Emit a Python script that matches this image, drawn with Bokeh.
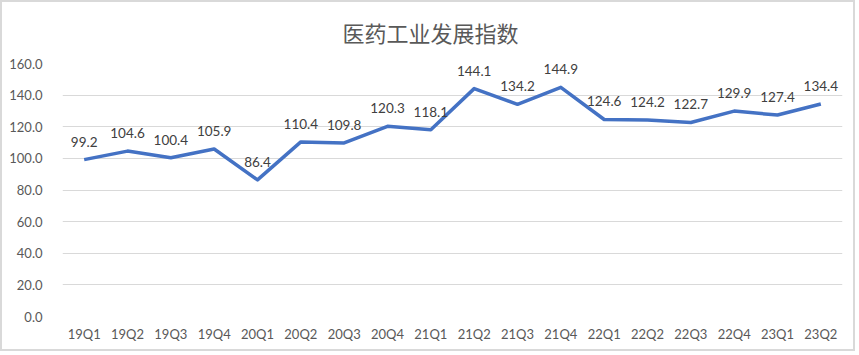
from bokeh.plotting import figure
from bokeh.models import FactorRange, Range1d, ColumnDataSource, NumeralTickFormatter, Title
from bokeh.core.properties import value
from bokeh.embed import file_html
from bokeh.resources import INLINE

categories = ["19Q1", "19Q2", "19Q3", "19Q4", "20Q1", "20Q2", "20Q3", "20Q4", "21Q1",
              "21Q2", "21Q3", "21Q4", "22Q1", "22Q2", "22Q3", "22Q4", "23Q1", "23Q2"]
values = [99.2, 104.6, 100.4, 105.9, 86.4, 110.4, 109.8, 120.3, 118.1,
          144.1, 134.2, 144.9, 124.6, 124.2, 122.7, 129.9, 127.4, 134.4]
labels = ["%.1f" % v for v in values]
title_text = "医药工业发展指数"

src = ColumnDataSource(dict(x=categories, y=values, label=labels))

p = figure(width=855, height=351, x_range=FactorRange(*categories, range_padding=0),
           y_range=Range1d(0, 160), output_backend="svg", toolbar_location=None,
           min_border_left=60, min_border_right=15, min_border_top=61, min_border_bottom=37)
p.styles = {"border": "2px solid #d9d9d9"}
p.outline_line_color = None
p.background_fill_color = "white"
p.border_fill_color = "white"

t = Title(text=title_text, align="left", vertical_align="top", text_font="Noto Sans CJK SC",
          text_font_size="22px", text_color="#595959", text_font_style="normal",
          offset=280, standoff=27)
p.add_layout(t, "above")

p.line("x", "y", source=src, line_color="#4472C4", line_width=3.5, line_join="round")
p.text("x", "y", text="label", source=src, text_align="center", text_baseline="middle",
       y_offset=-18, text_font=value("Lato"), text_font_size="13.5px", text_color="#404040")

p.xgrid.grid_line_color = None
p.ygrid.grid_line_color = "#d9d9d9"
p.ygrid.grid_line_width = 1
p.yaxis.ticker = [0, 20, 40, 60, 80, 100, 120, 140, 160]
p.yaxis.formatter = NumeralTickFormatter(format="0.0")
for ax in (p.xaxis[0], p.yaxis[0]):
    ax.axis_line_color = None
    ax.major_tick_line_color = None
    ax.minor_tick_line_color = None
    ax.major_label_text_font = "Lato"
    ax.major_label_text_font_size = "13px"
    ax.major_label_text_color = "#595959"
p.xaxis.major_label_standoff = 3
p.yaxis.major_label_standoff = 14

open("out.html", "w").write(file_html(p, INLINE))
